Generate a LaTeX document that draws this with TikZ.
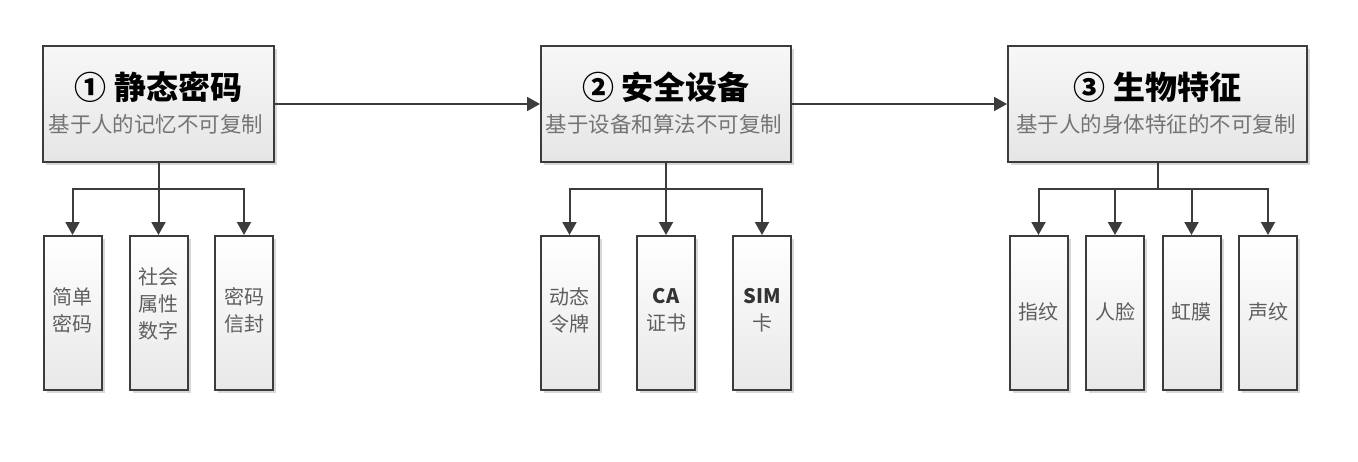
\documentclass[tikz,border=0pt]{standalone}
\usepackage{fontspec}
\newfontfamily\cjk{Noto Sans CJK SC}
\usetikzlibrary{arrows.meta,shadows}
\definecolor{edge}{HTML}{3C3C3C}
\definecolor{subgray}{HTML}{747474}
\definecolor{leafgray}{HTML}{5E5E5E}
\tikzset{
  topbox/.style={draw=edge, line width=2pt, top color=white!97!black, bottom color=white!90!black,
    minimum height=116pt, inner sep=0pt,
    drop shadow={shadow xshift=3pt, shadow yshift=-3pt, fill=black!30, opacity=0.5}},
  leafbox/.style={draw=edge, line width=2pt, top color=white, bottom color=white!91!black,
    minimum width=58pt, minimum height=154pt, inner sep=0pt,
    drop shadow={shadow xshift=3pt, shadow yshift=-3pt, fill=black!30, opacity=0.5}},
  titletext/.style={font=\cjk\bfseries\fontsize{32}{32}\selectfont, text=black, inner sep=0pt},
  subtext/.style={font=\cjk\fontsize{21.5}{21.5}\selectfont, text=subgray, inner sep=0pt},
  leaftext/.style={font=\cjk\fontsize{20}{27}\selectfont, text=leafgray, align=center, inner sep=0pt},
  conn/.style={draw=edge, line width=2pt},
  arr/.style={conn, -{Triangle[width=14pt,length=13pt]}},
}
\begin{document}
\begin{tikzpicture}[x=1pt,y=-1pt]
\useasboundingbox (0,0) rectangle (1358,461);
\fill[white] (0,0) rectangle (1358,461);
% top boxes
\node[topbox, minimum width=231pt] (b1) at (158.5,104) {};
\node[topbox, minimum width=250pt] (b2) at (666,104) {};
\node[topbox, minimum width=299pt] (b3) at (1157.5,104) {};
\node[titletext] (t1) at (158.5,87) {①~静态密码};
\node[subtext] (s1) at (156,124) {基于人的记忆不可复制};
\node[titletext] (t2) at (666,87) {②~安全设备};
\node[subtext] (s2) at (664,124) {基于设备和算法不可复制};
\node[titletext] (t3) at (1157.5,87) {③~生物特征};
\node[subtext] (s3) at (1156,124) {基于人的身体特征的不可复制};
% horizontal arrows
\draw[arr] (b1.east) -- (b2.west);
\draw[arr] (b2.east) -- (b3.west);
% leaves group 1
\node[leafbox] (l11) at (72.5,313) {};
\node[leafbox] (l12) at (158.5,313) {};
\node[leafbox] (l13) at (244,313) {};
\node[leaftext] (x11) at (72.5,310) {简单\\密码};
\node[leaftext] (x12) at (158.5,304) {社会\\属性\\数字};
\node[leaftext] (x13) at (244,310) {密码\\信封};
\coordinate (j1) at (158.5,189);
\draw[conn] (b1.south) -- (j1);
\draw[arr] (j1) -| (l11.north);
\draw[arr] (j1) -- (l12.north);
\draw[arr] (j1) -| (l13.north);
% leaves group 2
\node[leafbox] (l21) at (569.5,313) {};
\node[leafbox] (l22) at (666,313) {};
\node[leafbox] (l23) at (762,313) {};
\node[leaftext] (x21) at (569.5,310) {动态\\令牌};
\node[leaftext] (x22) at (666,310) {{\bfseries\color{black!80}CA}\\证书};
\node[leaftext] (x23) at (762,310) {{\bfseries\color{black!80}SIM}\\卡};
\coordinate (j2) at (666,189);
\draw[conn] (b2.south) -- (j2);
\draw[arr] (j2) -| (l21.north);
\draw[arr] (j2) -- (l22.north);
\draw[arr] (j2) -| (l23.north);
% leaves group 3
\node[leafbox] (l31) at (1038.5,313) {};
\node[leafbox] (l32) at (1115,313) {};
\node[leafbox] (l33) at (1191.5,313) {};
\node[leafbox] (l34) at (1268,313) {};
\node[leaftext] (x31) at (1038.5,312) {指纹};
\node[leaftext] (x32) at (1115,312) {人脸};
\node[leaftext] (x33) at (1191.5,312) {虹膜};
\node[leaftext] (x34) at (1268,312) {声纹};
\coordinate (j3) at (1157.5,189);
\draw[conn] (b3.south) -- (j3);
\draw[arr] (j3) -| (l31.north);
\draw[arr] (j3) -| (l32.north);
\draw[arr] (j3) -| (l33.north);
\draw[arr] (j3) -| (l34.north);
\end{tikzpicture}
\end{document}
